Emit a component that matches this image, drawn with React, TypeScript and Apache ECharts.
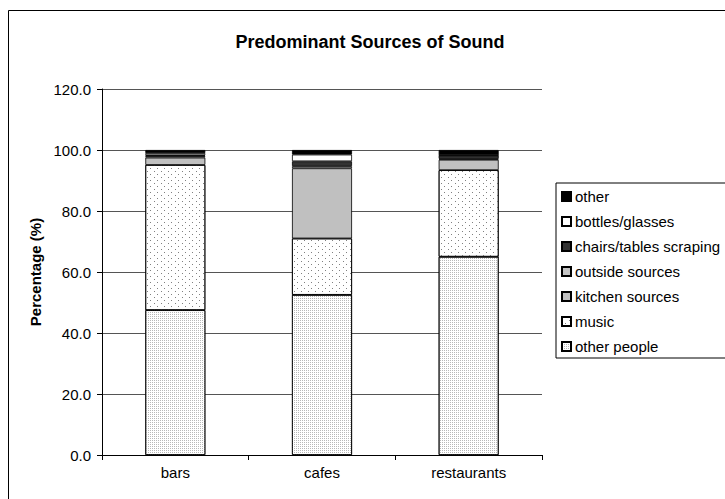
import React, { useEffect, useRef } from "react";
import * as echarts from "echarts";

const categories = ["bars", "cafes", "restaurants"];
const seriesNames = ["other people", "music", "kitchen sources", "outside sources", "chairs/tables scraping", "bottles/glasses", "other"];
const otherPeople = [47.5, 52.5, 65.0];
const music = [47.6, 18.5, 28.4];
const kitchenSources = [2.4, 23.0, 3.4];
const outsideSources = [0.5, 0.7, 0.3];
const chairsTables = [0.3, 1.6, 1.1];
const bottlesGlasses = [0.7, 2.2, 0.1];
const other = [1.0, 1.5, 1.7];
const yTicks = [0, 20, 40, 60, 80, 100, 120];

const FONT = "Liberation Sans, Arial, sans-serif";

export default function App() {
  const ref = useRef<HTMLDivElement>(null);
  useEffect(() => {
    document.body.style.margin = "0";
    const chart = echarts.init(ref.current!, null, { renderer: "svg" });
    const values = [otherPeople, music, kitchenSources, outsideSources, chairsTables, bottlesGlasses, other];
    const styles: any[] = [
      { color: "#ffffff", decal: { symbol: "rect", symbolSize: 1, dashArrayX: [1, 1], dashArrayY: [1, 1], color: "#b8b8b8", backgroundColor: "#ffffff" } },
      { color: "#ffffff", decal: { symbol: "rect", symbolSize: 1, dashArrayX: [[1, 6], [0, 3, 1, 3]], dashArrayY: [1, 2], color: "#808080", backgroundColor: "#ffffff" } },
      { color: "#c0c0c0" },
      { color: "#c4c4c4" },
      { color: "#333333" },
      { color: "#ffffff" },
      { color: "#000000" },
    ];
    const series = seriesNames.map((name, i) => ({
      name,
      type: "bar",
      stack: "total",
      barWidth: 60,
      data: values[i],
      itemStyle: { ...styles[i], borderColor: "#000", borderWidth: 0.8 },
      emphasis: { disabled: true },
    }));
    chart.setOption({
      animation: false,
      backgroundColor: "#ffffff",
      textStyle: { fontFamily: FONT },
      title: {
        text: "Predominant Sources of Sound",
        left: 365,
        textAlign: "center",
        top: 28,
        textStyle: { fontFamily: FONT, fontSize: 18, fontWeight: "bold", color: "#000" },
      },
      graphic: [
        { type: "rect", shape: { x: 8.5, y: 10.5, width: 740, height: 520 }, style: { fill: "none", stroke: "#000", lineWidth: 1 }, silent: true, z: -1 },
      ],
      legend: {
        orient: "vertical",
        left: 556,
        top: 183,
        data: [...seriesNames].reverse(),
        itemWidth: 9,
        itemHeight: 9,
        itemGap: 10,
        padding: [6, 60, 4, 5],
        borderColor: "#000",
        borderWidth: 1,
        icon: "rect",
        textStyle: { fontFamily: FONT, fontSize: 15, lineHeight: 15, color: "#000", padding: [0, 0, 0, -1] },
      },
      grid: { left: 102, right: 183, top: 89, bottom: 44, containLabel: false },
      xAxis: {
        type: "category",
        data: categories,
        axisLine: { lineStyle: { color: "#000", width: 1 } },
        axisTick: { show: true, alignWithLabel: false, length: 5, lineStyle: { color: "#000" } },
        axisLabel: { fontFamily: FONT, fontSize: 15, color: "#000", margin: 10 },
      },
      yAxis: {
        type: "value",
        min: 0,
        max: 120,
        interval: 20,
        name: "Percentage (%)",
        nameLocation: "middle",
        nameGap: 52,
        nameTextStyle: { fontFamily: FONT, fontSize: 15, fontWeight: "bold", color: "#000" },
        axisLine: { show: true, lineStyle: { color: "#000", width: 1 } },
        axisTick: { show: true, length: 5, lineStyle: { color: "#000" } },
        axisLabel: {
          fontFamily: FONT,
          fontSize: 15,
          color: "#000",
          margin: 11,
          formatter: (v: number) => (yTicks.includes(v) ? v.toFixed(1) : ""),
        },
        splitLine: { show: true, lineStyle: { color: "#555", width: 1 } },
      },
      series,
    });
    return () => chart.dispose();
  }, []);
  return <div ref={ref} style={{ position: "absolute", left: 0, top: 0, width: 725, height: 499 }} />;
}
